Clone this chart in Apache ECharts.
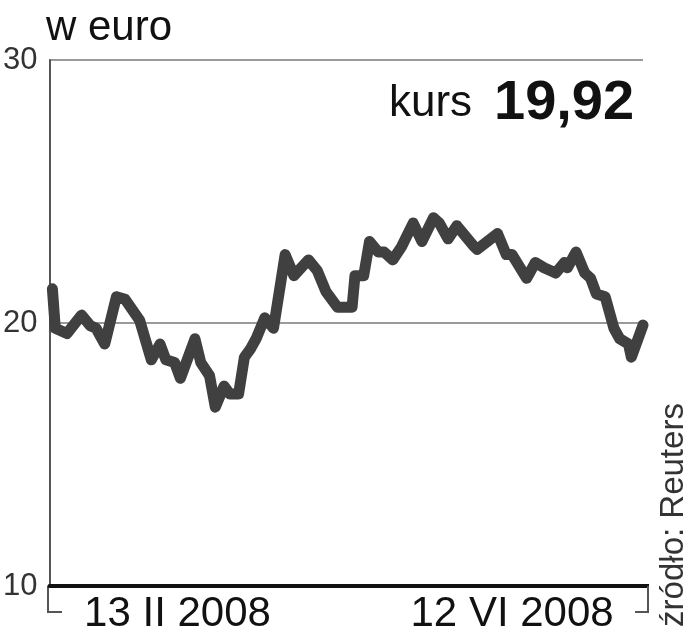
<!DOCTYPE html>
<html>
<head>
<meta charset="utf-8">
<script src="https://cdn.jsdelivr.net/npm/echarts@6/dist/echarts.min.js"></script>
<style>html,body{margin:0;padding:0;background:#fff}#c{width:693px;height:640px}</style>
</head>
<body>
<div id="c"></div>
<script>
// Day offsets (x) and price in euro (y)
var days = [1,2,6,11,14,16,19,23,26,31,35,38,40,43,45,50,52,55,57,60,62,65,67,69,71,74,77,81,84,89,92,95,99,104,105,108,110,113,115,118,121,125,128,132,134,137,140,146,147,154,157,159,164,167,170,174,177,178,181,184,186,188,191,194,196,199,200,204];
var prices = [21.3,19.8,19.6,20.3,19.9,19.8,19.2,21.0,20.9,20.1,18.6,19.2,18.6,18.5,17.9,19.4,18.5,18.0,16.8,17.6,17.3,17.3,18.7,19.0,19.4,20.2,19.8,22.6,21.8,22.4,22.0,21.2,20.6,20.6,21.8,21.8,23.1,22.7,22.7,22.4,22.9,23.8,23.1,24.0,23.8,23.2,23.7,22.9,22.8,23.4,22.6,22.6,21.7,22.3,22.1,21.9,22.3,22.1,22.7,21.9,21.7,21.1,21.0,19.8,19.4,19.2,18.7,19.92];
var xTickDays = [44, 159];
var xTickLabels = ['13 II 2008', '12 VI 2008'];
var yTicks = [10, 20, 30];
var unitLabel = 'w euro';
var lastLabel = 'kurs';
var lastValue = '19,92';
var sourceLabel = 'źródło: Reuters';

var points = days.map(function (d, i) { return [d, prices[i]]; });

var chart = echarts.init(document.getElementById('c'), null, {renderer: 'canvas'});
chart.setOption({
  animation: false,
  backgroundColor: '#fff',
  grid: {left: 48, right: 50, top: 60, bottom: 54, containLabel: false},
  xAxis: {
    type: 'value', min: 0, max: 204,
    axisLine: {show: true, onZero: false, lineStyle: {color: '#111', width: 4}},
    axisTick: {show: false},
    splitLine: {show: false},
    axisLabel: {
      customValues: xTickDays,
      formatter: function (v) { var i = xTickDays.indexOf(v); return i >= 0 ? xTickLabels[i] : ''; },
      color: '#111', fontFamily: 'Liberation Sans', fontSize: 42, margin: 7
    }
  },
  yAxis: {
    type: 'value', min: yTicks[0], max: yTicks[yTicks.length - 1], interval: 10,
    axisLine: {show: true, lineStyle: {color: '#555', width: 2}},
    axisTick: {show: false},
    splitLine: {show: true, lineStyle: {color: '#9a9a9a', width: 2}},
    axisLabel: {color: '#333', fontFamily: 'Liberation Sans', fontSize: 31, margin: 12}
  },
  series: [{
    type: 'line', data: points, symbol: 'none', clip: false,
    lineStyle: {color: '#404040', width: 11, cap: 'round', join: 'round'}
  }],
  graphic: [
    {type: 'text', left: 46, top: 7, style: {text: unitLabel, font: '42px "Liberation Sans"', fill: '#111'}},
    {type: 'text', x: 389, y: 104, style: {text: lastLabel, font: '44px "Liberation Sans"', fill: '#111', verticalAlign: 'middle'}},
    {type: 'text', x: 494, y: 104, style: {text: lastValue, font: 'bold 56px "Liberation Sans"', fill: '#111', verticalAlign: 'middle'}},
    {type: 'line', shape: {x1: 48, y1: 586, x2: 48, y2: 612}, style: {stroke: '#555', lineWidth: 2}},
    {type: 'line', shape: {x1: 47, y1: 612, x2: 62, y2: 612}, style: {stroke: '#555', lineWidth: 2}},
    {type: 'line', shape: {x1: 643, y1: 586, x2: 649, y2: 586}, style: {stroke: '#111', lineWidth: 4}},
    {type: 'line', shape: {x1: 648, y1: 586, x2: 648, y2: 612}, style: {stroke: '#555', lineWidth: 2}},
    {type: 'line', shape: {x1: 635, y1: 612, x2: 649, y2: 612}, style: {stroke: '#555', lineWidth: 2}},
    {type: 'text', x: 674, y: 515, rotation: Math.PI / 2,
     style: {text: sourceLabel, font: '33px "Liberation Sans"', fill: '#333', align: 'center', verticalAlign: 'middle'}}
  ]
});
</script>
</body>
</html>
